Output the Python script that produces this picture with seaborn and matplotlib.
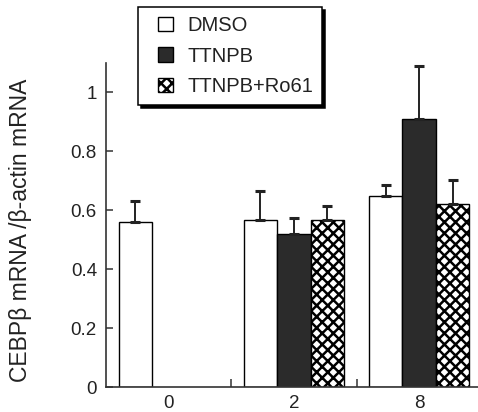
import numpy as np
import pandas as pd
import matplotlib
matplotlib.use("Agg")
import matplotlib.pyplot as plt
from matplotlib.patches import Rectangle
from matplotlib.legend_handler import HandlerPatch
import seaborn as sns

days = ["0", "2", "8"]
treatments = ["DMSO", "TTNPB", "TTNPB+Ro61"]
dmso_mean = [0.56, 0.567, 0.65]
dmso_err = [0.07, 0.10, 0.035]
ttnpb_mean = [np.nan, 0.518, 0.911]
ttnpb_err = [np.nan, 0.057, 0.18]
ro61_mean = [np.nan, 0.568, 0.621]
ro61_err = [np.nan, 0.048, 0.081]
yticks = [0, 0.2, 0.4, 0.6, 0.8, 1]
ytick_labels = ["0", "0.2", "0.4", "0.6", "0.8", "1"]

means = {"DMSO": dmso_mean, "TTNPB": ttnpb_mean, "TTNPB+Ro61": ro61_mean}
errs = {"DMSO": dmso_err, "TTNPB": ttnpb_err, "TTNPB+Ro61": ro61_err}

rows = []
for t in treatments:
    for d, m in zip(days, means[t]):
        rows.append({"day": d, "treatment": t, "value": m})
df = pd.DataFrame(rows).dropna()

sns.set_style("ticks")
plt.rcParams["font.family"] = ["Liberation Sans", "DejaVu Sans"]
plt.rcParams["hatch.linewidth"] = 1.8
plt.rcParams["hatch.color"] = "black"

fig = plt.figure(figsize=(4.78, 4.12), dpi=100)
ax = fig.add_axes([106 / 478, 1 - 387 / 412, 1 - 106 / 478, (387 - 63) / 412])

palette = {"DMSO": "white", "TTNPB": "#2b2b2b", "TTNPB+Ro61": "white"}
sns.barplot(data=df, x="day", y="value", hue="treatment", order=days,
            hue_order=treatments, palette=palette, edgecolor="black",
            linewidth=1.0, errorbar=None, width=0.8, legend=False, ax=ax,
            saturation=1)

hatches = {"DMSO": "", "TTNPB": "", "TTNPB+Ro61": "xxx"}
handles = []
for t, cont in zip(treatments, ax.containers):
    for bar in cont:
        bar.set_hatch(hatches[t])
        cx = bar.get_x() + bar.get_width() / 2
        idx = int(round(cx))
        h = bar.get_height()
        e = errs[t][idx]
        ax.errorbar([cx], [h], yerr=[[0], [e]], fmt="none", ecolor="#222222",
                    elinewidth=1.4, capsize=3.5, capthick=2.2, zorder=3)
    handles.append(cont[0])

ax.set_xlim(-0.5, 2.47)
ax.set_ylim(0, 1.1)
ax.set_yticks(yticks)
ax.set_yticklabels(ytick_labels)
ax.set_xticks(range(len(days)))
ax.set_xticklabels(days)
ax.set_xticks([0.5, 1.5], minor=True)
ax.tick_params(axis="x", which="major", length=0, pad=5.5, labelsize=13.5,
               colors="#222222")
ax.tick_params(axis="x", which="minor", length=6, direction="in", width=1.1,
               color="#333333")
ax.tick_params(axis="y", which="major", length=5, direction="in", width=1.1,
               pad=6.5, labelsize=13.5, colors="#222222", color="#333333")
for s in ["top", "right"]:
    ax.spines[s].set_visible(False)
for s in ["left", "bottom"]:
    ax.spines[s].set_linewidth(1.2)
    ax.spines[s].set_color("#333333")

ax.set_xlabel("")
ax.set_ylabel("CEBPβ mRNA /β-actin mRNA", fontsize=16.5, color="#222222")
ax.yaxis.set_label_coords(-0.2, 0.485)


def square_right(legend, orig_handle, xdescent, ydescent, width, height,
                 fontsize):
    side = height
    return Rectangle((-xdescent + width - side, -ydescent), side, side)


leg = fig.legend(handles=handles, labels=treatments, loc="upper left",
                 bbox_to_anchor=(138 / 478, 1 - 7 / 412), borderaxespad=0,
                 fontsize=14.5, frameon=True, fancybox=False,
                 shadow={"color": "black", "alpha": 1.0},
                 handlelength=1.3, handleheight=0.75, handletextpad=0.7,
                 labelspacing=0.57, borderpad=0.45,
                 handler_map={Rectangle: HandlerPatch(patch_func=square_right)})
leg.get_frame().set_edgecolor("black")
leg.get_frame().set_linewidth(1.1)
for txt in leg.get_texts():
    txt.set_color("#222222")

fig.savefig("out.png", dpi=100)
